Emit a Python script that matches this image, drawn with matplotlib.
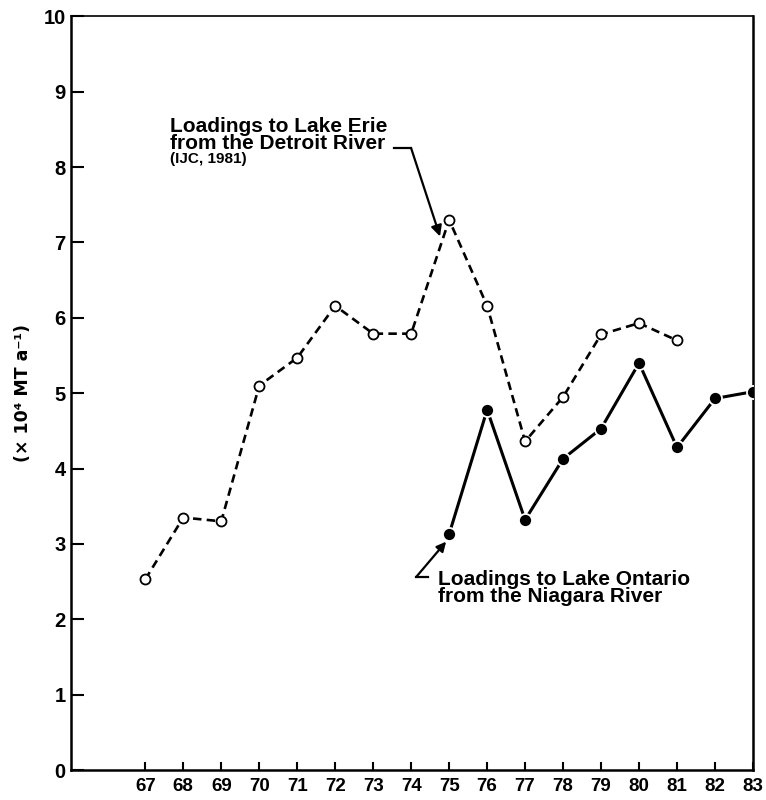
import matplotlib
matplotlib.use("Agg")
import matplotlib.pyplot as plt

plt.rcParams['font.family'] = ['Liberation Sans', 'DejaVu Sans']

# Lake Erie loadings from the Detroit River (IJC, 1981), 1967-1981
erie_years = [67, 68, 69, 70, 71, 72, 73, 74, 75, 76, 77, 78, 79, 80, 81]
erie_load = [2.53, 3.35, 3.30, 5.10, 5.47, 6.16, 5.79, 5.79, 7.30, 6.16, 4.36, 4.95, 5.78, 5.93, 5.70]

# Lake Ontario loadings from the Niagara River, 1975-1983
ontario_years = [75, 76, 77, 78, 79, 80, 81, 82, 83]
ontario_load = [3.13, 4.78, 3.32, 4.13, 4.53, 5.40, 4.28, 4.93, 5.02]

year_ticks = list(range(67, 84))
load_ticks = list(range(0, 11))

fig = plt.figure(figsize=(7.66, 8.0), dpi=100)
ax = fig.add_axes([0.093, 0.0375, 0.890, 0.942])

ax.plot(erie_years, erie_load, color='black', lw=1.9, linestyle=(0, (3.2, 2.0)),
        marker='o', ms=7.2, mfc='white', mec='black', mew=1.3, zorder=3)
ax.plot(ontario_years, ontario_load, color='black', lw=2.2, linestyle='-',
        marker='o', ms=9.4, mfc='black', mec='white', mew=1.3, zorder=4)

ax.set_xlim(65.05, 83.0)
ax.set_ylim(0, 10)
ax.set_xticks(year_ticks)
ax.set_xticklabels([str(y) for y in year_ticks])
ax.set_yticks(load_ticks)
ax.set_yticklabels([str(v) for v in load_ticks])

ax.tick_params(axis='x', direction='in', length=6, width=1.5, pad=6,
               labelsize=13.5)
ax.tick_params(axis='y', direction='in', length=9, width=1.5, pad=4,
               labelsize=14.5)
for lab in ax.get_xticklabels() + ax.get_yticklabels():
    lab.set_fontweight('bold')

for side in ['left', 'bottom', 'right']:
    ax.spines[side].set_linewidth(1.8)
ax.spines['top'].set_linewidth(1.2)

ax.set_ylabel('(× 10⁴ MT a⁻¹)', fontsize=12.5, fontweight='bold',
              family='DejaVu Sans', labelpad=8)

txt = dict(fontsize=15, fontweight='bold', ha='left', va='top',
           linespacing=0.87, color='black')

# Detroit River annotation
ax.text(67.65, 8.67, 'Loadings to Lake Erie\nfrom the Detroit River', **txt)
ax.text(67.65, 8.06, '(IJC, 1981)', fontsize=11, fontweight='bold',
        ha='left', va='baseline')
ax.plot([73.55, 74.0], [8.25, 8.25], color='black', lw=1.6)
ax.annotate('', xy=(74.76, 7.08), xytext=(74.0, 8.25),
            arrowprops=dict(arrowstyle='-|>', color='black', lw=1.6,
                            mutation_scale=16, shrinkA=0, shrinkB=0))

# Niagara River annotation
ax.text(74.71, 2.66, 'Loadings to Lake Ontario\nfrom the Niagara River', **txt)
ax.plot([74.13, 74.45], [2.56, 2.56], color='black', lw=1.6)
ax.annotate('', xy=(74.92, 3.03), xytext=(74.13, 2.56),
            arrowprops=dict(arrowstyle='-|>', color='black', lw=1.6,
                            mutation_scale=14, shrinkA=0, shrinkB=0))

fig.savefig('out.png', dpi=100)
